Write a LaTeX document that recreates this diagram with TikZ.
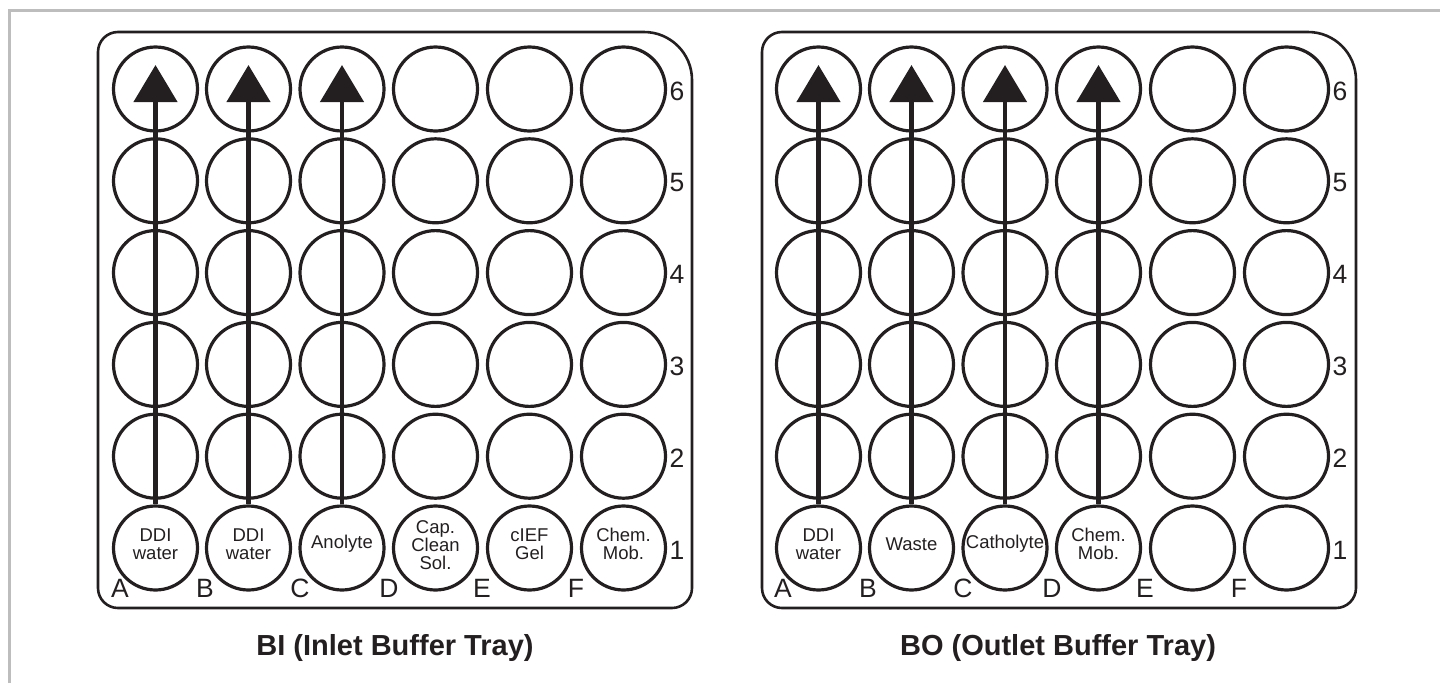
\documentclass[tikz,border=0pt]{standalone}
\usepackage{fontspec}
\setmainfont{Liberation Sans}
\usetikzlibrary{arrows.meta,calc}
\definecolor{ink}{HTML}{231F20}
\definecolor{framegray}{HTML}{BDBDBD}
\begin{document}
\begin{tikzpicture}[x=1pt,y=-1pt,
  well/.style={circle,draw=ink,line width=3.2pt,minimum size=84pt,inner sep=0pt},
  welltext/.style={font=\fontsize{18.5}{18}\selectfont,align=center,text=ink,inner sep=0pt},
  tray/.style={draw=ink,line width=2.6pt},
  axislabel/.style={font=\fontsize{26.5}{30}\selectfont,text=ink,inner sep=0pt},
  traytitle/.style={font=\fontsize{29}{32}\selectfont\bfseries,text=ink,inner sep=0pt,anchor=base},
  flow/.style={draw=ink,line width=4.5pt,-{Triangle[length=37pt,width=43pt]}},
  frameline/.style={draw=framegray,line width=3pt}]
\useasboundingbox (0,0) rectangle (1440,683);
% outer gray frame
\draw[frameline] (9,683) -- (9,10) -- (1440,10);
% trays
\foreach \o in {0,664} {
  \draw[tray] ({118+\o},32) -- ({644+\o},32) arc[start angle=-90,end angle=0,radius=48]
    -- ({692+\o},588) arc[start angle=0,end angle=90,radius=20]
    -- ({118+\o},608) arc[start angle=90,end angle=180,radius=20]
    -- ({98+\o},52) arc[start angle=180,end angle=270,radius=20] -- cycle;
}
% wells
\foreach \col/\cx in {A/155.5,B/248.5,C/342,D/435.5,E/529.5,F/623.5} {
  \foreach \row in {1,...,6} {
    \node[well] (L-\col-\row) at (\cx,{548-(\row-1)*91.8}) {};
    \node[well] (R-\col-\row) at ({\cx+663},{548-(\row-1)*91.8}) {};
  }
}
% column letters
\foreach \col/\lx in {A/120,B/205,C/300,D/389,E/482,F/576} {
  \node[axislabel,anchor=base] (LL-\col) at (\lx,597) {\col};
  \node[axislabel,anchor=base] (RL-\col) at ({\lx+663},597) {\col};
}
% row numbers
\foreach \row in {1,...,6} {
  \node[axislabel] (LN-\row) at (677,{548-(\row-1)*91.8+2}) {\row};
  \node[axislabel] (RN-\row) at (1340,{548-(\row-1)*91.8+2}) {\row};
}
% arrows
\foreach \col in {A,B,C} {
  \draw[flow] (L-\col-1.north) -- ($(L-\col-6.center)+(0,-24)$);
}
\foreach \col in {A,B,C,D} {
  \draw[flow] (R-\col-1.north) -- ($(R-\col-6.center)+(0,-24)$);
}
% well contents, row 1
\node[welltext] (LT-A) at ($(L-A-1.center)+(0,-4)$) {DDI\\water};
\node[welltext] (LT-B) at ($(L-B-1.center)+(0,-4)$) {DDI\\water};
\node[welltext] (LT-C) at ($(L-C-1.center)+(0,-4)$) {Anolyte};
\node[welltext] (LT-D) at ($(L-D-1.center)+(0,-3)$) {Cap.\\Clean\\Sol.};
\node[welltext] (LT-E) at ($(L-E-1.center)+(0,-4)$) {cIEF\\Gel};
\node[welltext] (LT-F) at ($(L-F-1.center)+(0,-4)$) {Chem.\\Mob.};
\node[welltext] (RT-A) at ($(R-A-1.center)+(0,-4)$) {DDI\\water};
\node[welltext] (RT-B) at ($(R-B-1.center)+(0,-4)$) {Waste};
\node[welltext] (RT-C) at ($(R-C-1.center)+(0,-4)$) {Catholyte};
\node[welltext] (RT-D) at ($(R-D-1.center)+(0,-4)$) {Chem.\\Mob.};
% titles
\node[traytitle] (BI) at (395,655) {BI (Inlet Buffer Tray)};
\node[traytitle] (BO) at (1058,655) {BO (Outlet Buffer Tray)};
\end{tikzpicture}
\end{document}
